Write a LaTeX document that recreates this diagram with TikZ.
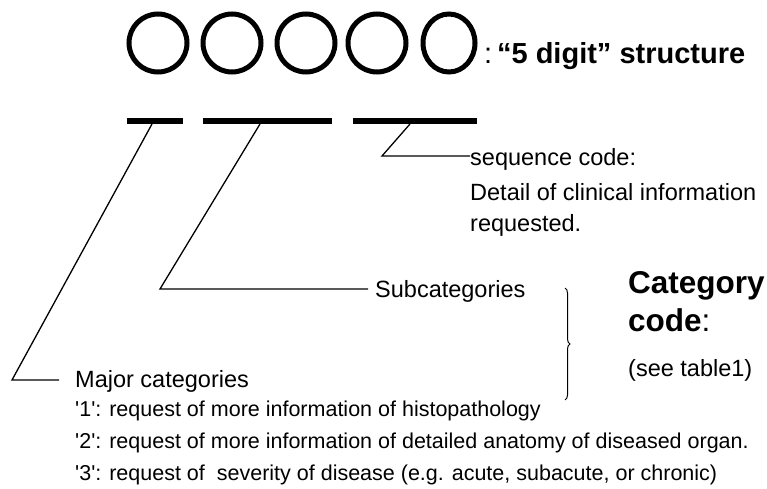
\documentclass[tikz,border=0pt]{standalone}
\usepackage{fontspec}
\setmainfont{Liberation Sans}
\usetikzlibrary{decorations.pathreplacing}

\tikzset{
  digit/.style={line width=5pt},
  bar/.style={line width=6pt},
  leader/.style={line width=1.3pt},
  txt/.style={anchor=base west, inner sep=0pt, font=\fontsize{23.5}{26}\selectfont},
  small/.style={anchor=base west, inner sep=0pt, font=\fontsize{21.5}{24}\selectfont},
  big/.style={anchor=base west, inner sep=0pt, font=\fontsize{31.5}{34}\selectfont\bfseries}
}
\newcommand{\sq}{\textquotesingle}

\begin{document}
\begin{tikzpicture}[x=1pt, y=-1pt]
		%%%%% START %%%%%
		\useasboundingbox (0,0) rectangle (767,489);
		
		% the five digits
		\foreach \cx in {158,232,306,377}
			\draw[digit] (\cx,43) circle (29);
		\draw[digit] (449,43) ellipse (26 and 29);
		\node[anchor=base west, inner sep=0pt, font=\fontsize{29}{31}\selectfont] (struct) at (484,64) {:\,\textbf{“5 digit” structure}};
		
		% groups
		\draw[bar] (127,121) -- (183,121);
		\draw[bar] (203,121) -- (332,121);
		\draw[bar] (353,121) -- (477,121);
		\coordinate (g1) at (152,124);
		\coordinate (g2) at (260,124);
		\coordinate (g3) at (410,124);
		
		% sequence code
		\node[txt] (seq) at (470,165) {sequence code:};
		\node[txt] (seqa) at (470,200) {Detail of clinical information};
		\node[txt] (seqb) at (470,231) {requested.};
		\coordinate (k3) at (382,156);
		\draw[leader] (g3) -- (k3) -- (seq.west |- k3);
		
		% subcategories
		\node[txt] (sub) at (375,297) {Subcategories};
		\coordinate (k2) at (160,289);
		\draw[leader] (g2) -- (k2) -- ([xshift=-7pt]sub.west |- k2);
		
		% major categories
		\node[txt] (maj) at (75,387) {Major categories};
		\coordinate (k1) at (12,380);
		\draw[leader] (g1) -- (k1) -- ([xshift=-16pt]maj.west |- k1);
		\node[small] (m1) at (75,416) {\sq1\sq: request of more information of histopathology};
		\node[small] (m2) at (75,448) {\sq2\sq: request of more information of detailed anatomy of diseased organ.};
		\node[small] (m3) at (75,480) {\sq3\sq: request of\ \ severity of disease (e.g. acute, subacute, or chronic)};
		
		% category code
		\draw[line width=1pt, decorate, decoration={brace, amplitude=5pt}] (565,288) -- (565,400);
		\node[big] (cat) at (628,293) {Category};
		\node[big] (code) at (628,331) {code\textmd{:}};
		\node[txt] (tab) at (628,376) {(see table1)};
		%%%%% END %%%%%
\end{tikzpicture}
\end{document}
